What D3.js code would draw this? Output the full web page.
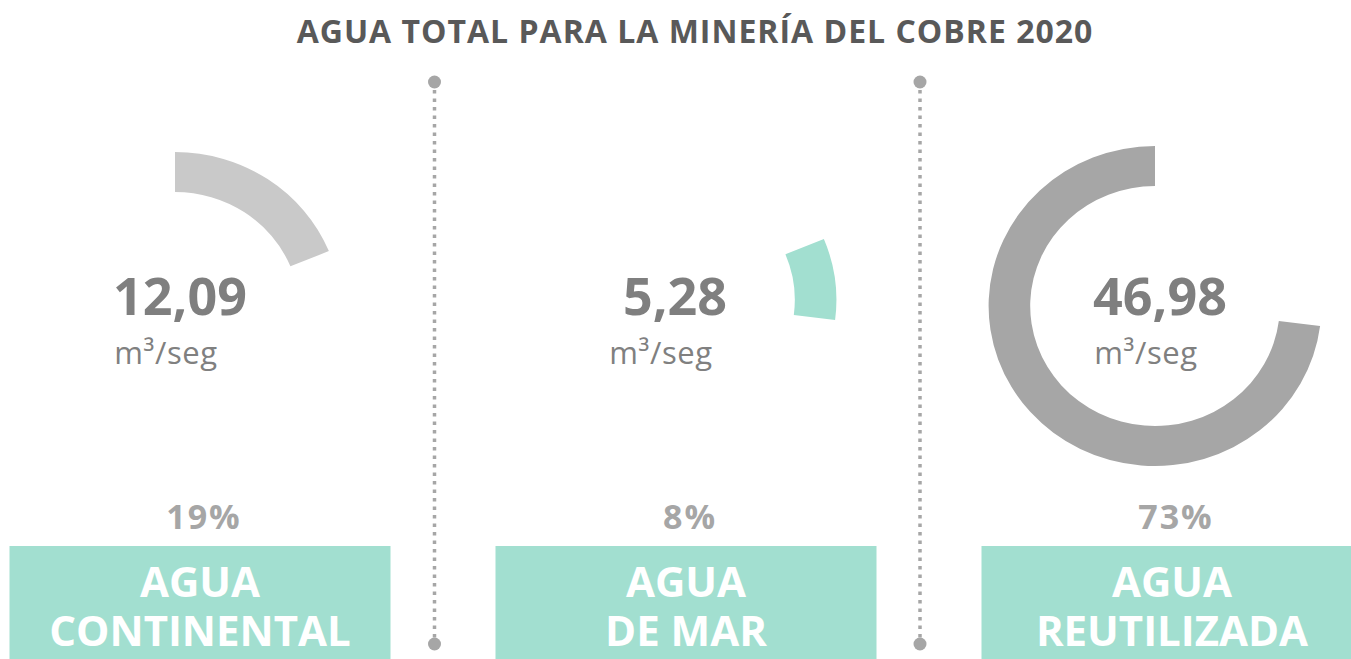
<!DOCTYPE html>
<html>
<head>
<meta charset="utf-8">
<script src="https://cdn.jsdelivr.net/npm/d3@7"></script>
<style>
  html, body { margin: 0; padding: 0; background: #fff; }
  svg { display: block; font-family: 'Open Sans', 'DejaVu Sans', sans-serif; }
</style>
</head>
<body>
<svg id="chart" width="1351" height="659"></svg>
<script>
// data
const title = 'AGUA TOTAL PARA LA MINERÍA DEL COBRE 2020';
const sources = ['continental', 'mar', 'reutilizada'];
const flows = [12.09, 5.28, 46.98];          // m3/seg
const shares = [19, 8, 73];                  // % labels
const labelLines = [['AGUA', 'CONTINENTAL'], ['AGUA', 'DE MAR'], ['AGUA', 'REUTILIZADA']];
const unit = 'm³/seg';
const arcColors = ['#c9c9c9', '#a2dfd0', '#a6a6a6'];

const svg = d3.select('#chart');
const fmt = d => d3.format('.2f')(d).replace('.', ',');

/** title */
svg.append('text')
  .attr('x', 695).attr('y', 43)
  .attr('text-anchor', 'middle')
  .attr('font-size', 32).attr('font-weight', 700)
  .attr('letter-spacing', 1)
  .attr('fill', '#595959')
  .text(title);

/** panel layout */
const panelX = d3.scalePoint().domain(sources).range([200, 1172]);
const ringCenters = [[175, 312], [670, 300], [1155, 306]];

const pie = d3.pie().sort(null).value(d => d)(flows);
const arc = d3.arc().innerRadius(120).outerRadius(160);

const panels = svg.selectAll('g.panel')
  .data(sources)
  .join('g')
  .attr('class', 'panel');

/** ring slice: each panel shows only its own share of the total */
panels.append('path')
  .attr('transform', (d, i) => `translate(${ringCenters[i][0]},${ringCenters[i][1]}) scale(1.04,1)`)
  .attr('d', (d, i) => arc(pie[i]))
  .attr('fill', (d, i) => arcColors[i]);

/** value + unit */
panels.append('text')
  .attr('x', (d, i) => ringCenters[i][0] + 5)
  .attr('y', 315)
  .attr('text-anchor', 'middle')
  .attr('font-size', 52).attr('font-weight', 700)
  .attr('fill', '#7f7f7f')
  .text((d, i) => fmt(flows[i]));

panels.append('text')
  .attr('x', (d, i) => ringCenters[i][0] - 9)
  .attr('y', 364)
  .attr('text-anchor', 'middle')
  .attr('font-size', 31)
  .attr('letter-spacing', 0.6)
  .attr('fill', '#808080')
  .text(unit);

/** percent */
panels.append('text')
  .attr('x', d => panelX(d) + 4)
  .attr('y', 529)
  .attr('text-anchor', 'middle')
  .attr('font-size', 34).attr('font-weight', 700)
  .attr('letter-spacing', 2)
  .attr('fill', '#a6a6a6')
  .text((d, i) => shares[i] + '%');

/** teal label box */
panels.append('rect')
  .attr('x', d => panelX(d) - 190.5)
  .attr('y', 546)
  .attr('width', 381)
  .attr('height', 120)
  .attr('fill', '#a2dfd0');

panels.append('text')
  .attr('text-anchor', 'middle')
  .attr('font-size', 42).attr('font-weight', 700)
  .attr('fill', '#ffffff')
  .selectAll('tspan')
  .data((d, i) => labelLines[i].map(t => ({ t, x: panelX(d) })))
  .join('tspan')
  .attr('x', d => d.x)
  .attr('y', (d, j) => 597 + j * 49)
  .text(d => d.t);

/** dotted separators */
const seps = [434.5, 920];
seps.forEach(x => {
  svg.append('line')
    .attr('x1', x).attr('x2', x)
    .attr('y1', 90).attr('y2', 638)
    .attr('stroke', '#a6a6a6')
    .attr('stroke-width', 3.5)
    .attr('stroke-dasharray', '3.5 5');
  [82, 644].forEach(y => {
    svg.append('circle')
      .attr('cx', x).attr('cy', y).attr('r', 6.5)
      .attr('fill', '#a6a6a6');
  });
});
</script>
</body>
</html>
